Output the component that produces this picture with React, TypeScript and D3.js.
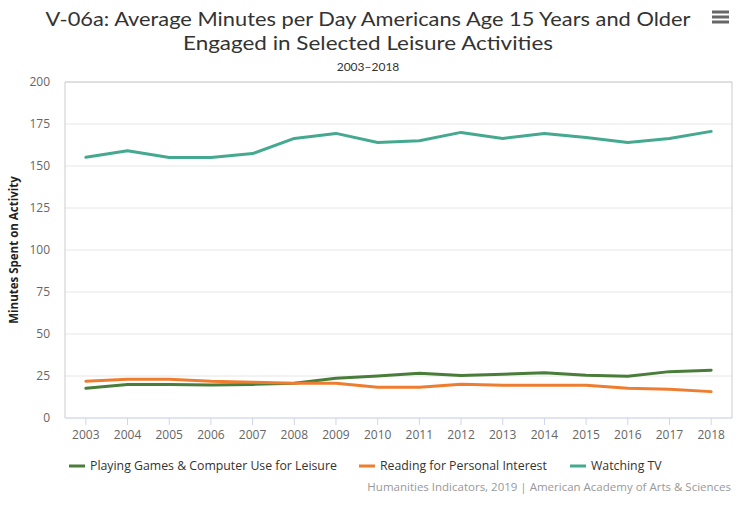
import React from "react";
import * as d3 from "d3";

const years = ["2003","2004","2005","2006","2007","2008","2009","2010","2011","2012","2013","2014","2015","2016","2017","2018"];
const gamesValues = [17.7, 20.0, 20.0, 19.6, 20.0, 20.7, 23.7, 25.0, 26.7, 25.3, 26.0, 27.0, 25.5, 24.9, 27.6, 28.4];
const readingValues = [21.9, 23.1, 23.1, 21.9, 21.3, 20.7, 20.7, 18.3, 18.3, 20.1, 19.5, 19.5, 19.5, 17.7, 17.1, 15.7];
const tvValues = [155.2, 159.1, 155.1, 155.1, 157.4, 166.4, 169.4, 164.0, 165.0, 170.0, 166.4, 169.4, 167.0, 164.0, 166.4, 170.6];
const yTicks = [0, 25, 50, 75, 100, 125, 150, 175, 200];
const seriesNames = ["Playing Games & Computer Use for Leisure", "Reading for Personal Interest", "Watching TV"];
const seriesColors = ["#4a7d3a", "#ee7d30", "#45a990"];

const W = 746, H = 505;
const plot = { left: 65, right: 732, top: 82, bottom: 418 };
const font = "'Open Sans', sans-serif";

export default function App() {
  const x = d3.scaleBand().domain(years).range([plot.left, plot.right]);
  const y = d3.scaleLinear().domain([0, 200]).range([plot.bottom, plot.top]);
  const cx = (yr: string) => (x(yr) as number) + x.bandwidth() / 2;
  const line = d3.line<number>().x((_, i) => cx(years[i])).y((d) => y(d));
  const allSeries = [gamesValues, readingValues, tvValues];
  const legendX = [69, 359, 570];

  return (
    <svg width={W} height={H} style={{ position: "absolute", left: 0, top: 0, background: "#fff" }} fontFamily={font}>
      <rect x={0} y={0} width={W} height={H} fill="#fff" />
      <text x={368} y={26} textAnchor="middle" fontSize={20} fill="#333" fontFamily="Lato, sans-serif" textLength={645} lengthAdjust="spacingAndGlyphs">V-06a: Average Minutes per Day Americans Age 15 Years and Older</text>
      <text x={368} y={50} textAnchor="middle" fontSize={20} fill="#333" fontFamily="Lato, sans-serif" textLength={370} lengthAdjust="spacingAndGlyphs">Engaged in Selected Leisure Activities</text>
      <text x={368} y={71} textAnchor="middle" fontSize={12} fill="#333" fontFamily="Lato, sans-serif">2003–2018</text>
      {[12, 17, 22].map((yy) => (
        <rect key={yy} x={712} y={yy - 1.5} width={17} height={3} fill="#666" />
      ))}
      {yTicks.map((t) => (
        <line key={t} x1={plot.left} x2={plot.right} y1={y(t)} y2={y(t)} stroke="#e6e6e6" strokeWidth={1} />
      ))}
      <line x1={plot.left} x2={plot.left} y1={plot.top} y2={plot.bottom} stroke="#ccc" />
      <line x1={plot.right} x2={plot.right} y1={plot.top} y2={plot.bottom} stroke="#ccc" />
      <line x1={plot.left} x2={plot.right} y1={plot.top} y2={plot.top} stroke="#ccc" />
      <line x1={plot.left} x2={plot.right} y1={plot.bottom} y2={plot.bottom} stroke="#ccd6eb" />
      {yTicks.map((t) => (
        <text key={t} x={50} y={y(t) + 4} textAnchor="end" fontSize={12} fill="#666">{t}</text>
      ))}
      {years.map((yr) => (
        <g key={yr}>
          <line x1={cx(yr)} x2={cx(yr)} y1={plot.bottom} y2={plot.bottom + 7} stroke="#ccd6eb" />
          <text x={cx(yr)} y={plot.bottom + 21} textAnchor="middle" fontSize={12} fill="#666">{yr}</text>
        </g>
      ))}
      <text transform={`translate(18,${(plot.top + plot.bottom) / 2}) rotate(-90)`} textAnchor="middle" fontSize={11.5} fontWeight="bold" fill="#222">Minutes Spent on Activity</text>
      {allSeries.map((s, i) => (
        <path key={i} d={line(s) as string} fill="none" stroke={seriesColors[i]} strokeWidth={3} strokeLinejoin="round" strokeLinecap="round" />
      ))}
      {seriesNames.map((n, i) => (
        <g key={n}>
          <line x1={legendX[i]} x2={legendX[i] + 16} y1={466} y2={466} stroke={seriesColors[i]} strokeWidth={3} />
          <text x={legendX[i] + 21} y={470} fontSize={12.3} fill="#333">{n}</text>
        </g>
      ))}
      <text x={731} y={491} textAnchor="end" fontSize={11.5} fill="#999">Humanities Indicators, 2019 | American Academy of Arts &amp; Sciences</text>
    </svg>
  );
}
